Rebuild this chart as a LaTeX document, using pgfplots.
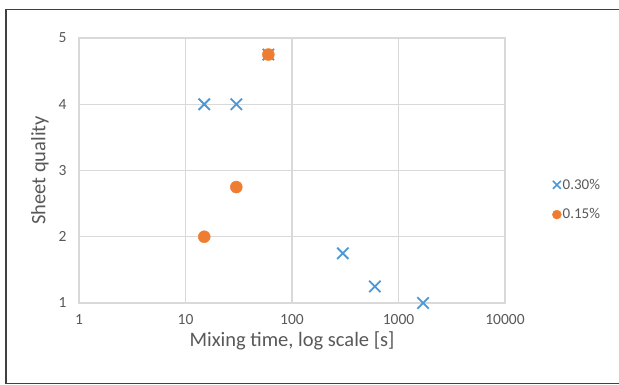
\documentclass[border=0pt]{standalone}
\usepackage{pgfplots}
\pgfplotsset{compat=1.18}
\usepackage{fontspec}
\setmainfont{Carlito}
\definecolor{xblue}{HTML}{4A98D8}
\definecolor{xorange}{HTML}{EE7D31}
\definecolor{gridc}{HTML}{D9D9D9}
\definecolor{txt}{HTML}{595959}
\begin{document}
\begin{tikzpicture}[x=1pt,y=1pt]
\useasboundingbox (0,0) rectangle (619,385);
\fill[white] (0,0) rectangle (619,385);
\draw[black!75, line width=1.2pt] (6,1.5) rectangle (619.5,375.5);
\begin{axis}[
  at={(79pt,82pt)}, anchor=south west,
  scale only axis, width=426pt, height=265pt,
  xmode=log, log basis x=10,
  xmin=1, xmax=10000, ymin=1, ymax=5,
  xtick={1,10,100,1000,10000},
  xticklabels={1,10,100,1000,10000},
  ytick={1,2,3,4,5},
  grid=major, major grid style={gridc, line width=1.2pt},
  axis line style={gridc, line width=1.2pt},
  tick style={draw=none},
  /pgf/number format/assume math mode=true,
  ticklabel style={font=\fontsize{15.5}{17}\selectfont, text=txt},
  xticklabel style={anchor=north, yshift=-8pt},
  yticklabel style={anchor=east, xshift=-9pt},
  xlabel={Mixing time, log scale [s]},
  ylabel={Sheet quality},
  label style={font=\fontsize{20.5}{23}\selectfont, text=txt},
  xlabel style={at={(axis description cs:0.5,-0.143)}, anchor=center},
  ylabel style={at={(axis description cs:-0.0915,0.5)}, anchor=center},
  legend style={at={(axis description cs:1.103,0.48)}, anchor=north west, draw=none, fill=none,
    font=\fontsize{15}{17}\selectfont, text=txt, row sep=16pt,
    nodes={inner sep=1pt}},
  legend cell align=left,
  clip=false,
]
\addplot[only marks, mark=x, mark size=8pt, xblue, line width=1.8pt,
  legend image code/.code={\draw[xblue, line width=1.6pt] (-4pt,-4pt)--(4pt,4pt) (-4pt,4pt)--(4pt,-4pt);}] coordinates {
  (15,4) (30,4) (60,4.75) (300,1.75) (600,1.25) (1700,1)
};
\addlegendentry{0.30\%}
\addplot[only marks, mark=*, mark size=6pt, xorange, mark options={draw=xorange, fill=xorange},
  legend image code/.code={\fill[xorange] (0pt,0pt) circle (4.5pt);}] coordinates {
  (15,2) (30,2.75) (60,4.75)
};
\addlegendentry{0.15\%}
\end{axis}
\end{tikzpicture}
\end{document}
